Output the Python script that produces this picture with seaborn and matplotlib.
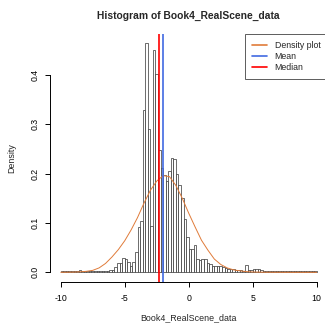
import numpy as np
import matplotlib
matplotlib.use("Agg")
import matplotlib.pyplot as plt
import seaborn as sns
from matplotlib.lines import Line2D

# bin edges -10..10 step 0.2, density heights
bin_edges = [round(-10 + 0.2 * i, 1) for i in range(101)]
densidad = [
    # -10 .. -6
    0.002, 0.002, 0.003, 0.002, 0.002, 0.003, 0.003, 0.004, 0.003, 0.002,
    0.003, 0.002, 0.003, 0.002, 0.002, 0.003, 0.002, 0.003, 0.003, 0.004,
    # -6 .. -2
    0.005, 0.010, 0.018, 0.019, 0.030, 0.028, 0.021, 0.012, 0.020, 0.042,
    0.092, 0.104, 0.329, 0.464, 0.290, 0.093, 0.451, 0.403, 0.249, 0.212,
    # -2 .. 2
    0.197, 0.185, 0.205, 0.232, 0.230, 0.200, 0.177, 0.150, 0.108, 0.072,
    0.048, 0.048, 0.055, 0.028, 0.026, 0.027, 0.027, 0.018, 0.016, 0.012,
    # 2 .. 6
    0.012, 0.013, 0.012, 0.010, 0.008, 0.007, 0.006, 0.007, 0.004, 0.005,
    0.004, 0.003, 0.015, 0.004, 0.004, 0.007, 0.007, 0.006, 0.005, 0.003,
    # 6 .. 10
    0.003, 0.003, 0.002, 0.003, 0.003, 0.002, 0.003, 0.002, 0.002, 0.003,
    0.002, 0.002, 0.002, 0.003, 0.002, 0.002, 0.002, 0.003, 0.002, 0.002,
]
centros = [round(e + 0.1, 2) for e in bin_edges[:-1]]

# density curve
curva_x = [-10, -9.5, -9, -8.5, -8, -7.5, -7, -6.5, -6, -5.5, -5, -4.5, -4, -3.5,
           -3, -2.5, -2, -1.5, -1, -0.5, 0, 0.5, 1, 1.5, 2, 2.5, 3, 3.5, 4, 4.5,
           5, 5.5, 6, 7, 8, 9, 10]
curva_y = [0.0001, 0.0002, 0.0005, 0.001, 0.002, 0.004, 0.009, 0.018, 0.031, 0.046,
           0.064, 0.086, 0.111, 0.140, 0.166, 0.185, 0.196, 0.194, 0.176, 0.150,
           0.120, 0.092, 0.065, 0.045, 0.027, 0.016, 0.009, 0.005, 0.003, 0.0015,
           0.0007, 0.0004, 0.0002, 0.0001, 0.0, 0.0, 0.0]

media = -1.99
mediana = -2.36

sns.set_style("ticks")
plt.rcParams['font.family'] = ['Liberation Sans', 'DejaVu Sans']
plt.rcParams['xtick.major.size'] = 3.3
plt.rcParams['ytick.major.size'] = 3.3

fig = plt.figure(figsize=(3.25, 3.24), dpi=100)
W, H = 325.0, 324.0
ax = fig.add_axes([50.5 / W, 1 - 281.5 / H, 276.4 / W, (281.5 - 34.3) / H])

sns.histplot(x=centros, weights=densidad, bins=bin_edges, stat='count',
             color='white', edgecolor='#333333', linewidth=0.5, alpha=1, ax=ax)
sns.lineplot(x=curva_x, y=curva_y, color='#e07b39', linewidth=0.7, ax=ax)
ax.axvline(media, color='#4169e1', linewidth=1.2)
ax.axvline(mediana, color='red', linewidth=1.2)

ax.set_xlim(-10.8, 10.8)
ax.set_ylim(-0.0186, 0.4826)
ax.set_xticks([-10, -5, 0, 5, 10])
ax.set_xticklabels(['-10', '-5', '0', '5', '10'])
ax.set_yticks([0.0, 0.1, 0.2, 0.3, 0.4])
ax.set_yticklabels(['0.0', '0.1', '0.2', '0.3', '0.4'], rotation=90, va='center')
ax.tick_params(axis='x', bottom=True, direction='out', length=3.3, width=0.7,
               pad=6, labelsize=6.3, color='black', labelcolor='black')
ax.tick_params(axis='y', left=True, direction='out', length=3.3, width=0.7,
               pad=4.5, labelsize=6.3, color='black', labelcolor='black')

for s in ['top', 'right']:
    ax.spines[s].set_visible(False)
ax.spines['bottom'].set_bounds(-10, 10)
ax.spines['left'].set_bounds(0, 0.4)
ax.spines['bottom'].set_linewidth(0.7)
ax.spines['left'].set_linewidth(0.7)
ax.spines['bottom'].set_color('black')
ax.spines['left'].set_color('black')

ax.set_xlabel('')
ax.set_ylabel('')
ax.set_title('Histogram of Book4_RealScene_data', fontsize=7.4, fontweight='bold', pad=11)
fig.text(188.7 / W, 1 - 318 / H, 'Book4_RealScene_data', ha='center', va='center', fontsize=6.4)
fig.text(12 / W, 1 - 158 / H, 'Density', ha='center', va='center', rotation=90, fontsize=6.4)

handles = [Line2D([], [], color='#e07b39', lw=1.2),
           Line2D([], [], color='#4169e1', lw=1.2),
           Line2D([], [], color='red', lw=1.2)]
leg = ax.legend(handles, ['Density plot', 'Mean', 'Median'], loc='upper right',
                bbox_to_anchor=(1, 1), borderaxespad=0, fontsize=6.3, frameon=True,
                fancybox=False, handlelength=1.7, handletextpad=0.9,
                labelspacing=0.25, borderpad=0.75)
leg.get_frame().set_edgecolor('#333333')
leg.get_frame().set_linewidth(0.7)

fig.savefig('out.png', dpi=100)
